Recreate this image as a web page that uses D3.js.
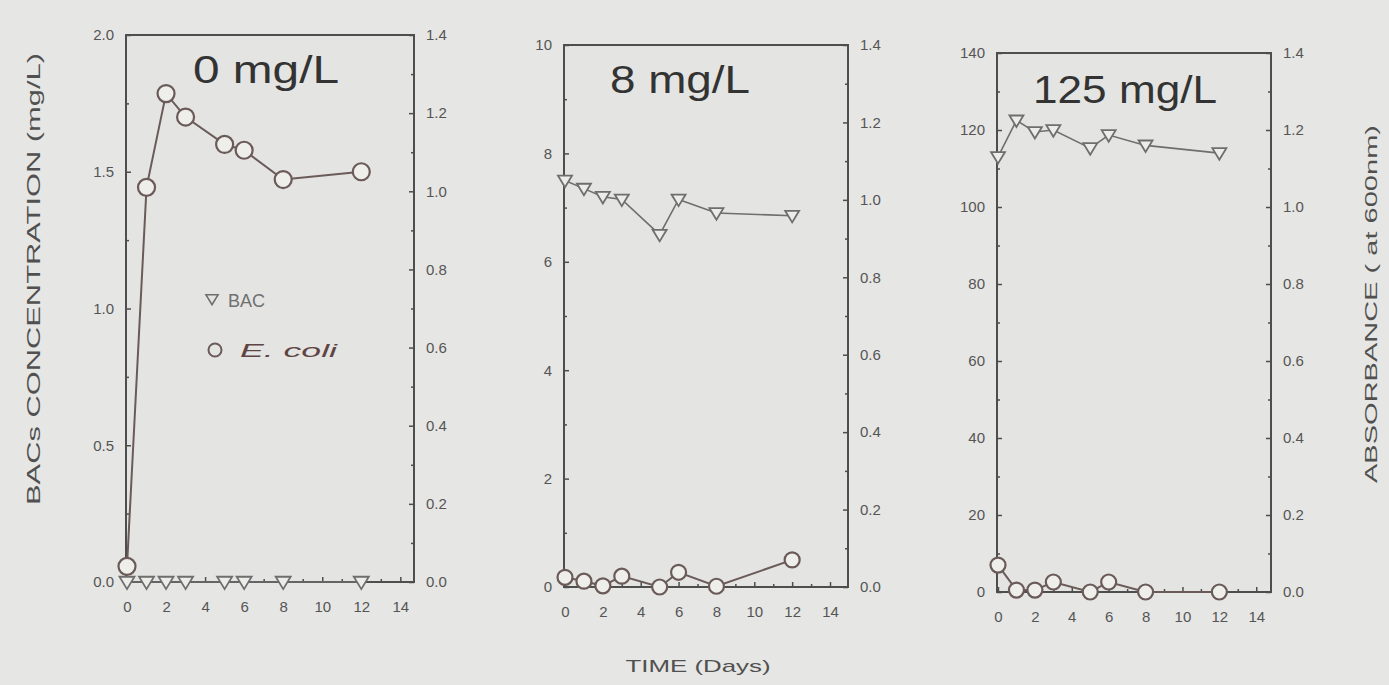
<!DOCTYPE html>
<html>
<head>
<meta charset="utf-8">
<script src="https://cdn.jsdelivr.net/npm/d3@7"></script>
<style>
  html, body { margin: 0; padding: 0; background: #e6e6e4; }
  svg { display: block; }
</style>
</head>
<body>
<svg id="chart" width="1389" height="685"></svg>
<script>
// ---------------- DATA ----------------
const days = [0, 1, 2, 3, 5, 6, 8, 12];
const panelTitles = ["0 mg/L", "8 mg/L", "125 mg/L"];

const bac0   = [0, 0, 0, 0, 0, 0, 0, 0];
const ecoli0 = [0.04, 1.01, 1.25, 1.19, 1.12, 1.105, 1.03, 1.05];

const bac8   = [7.5, 7.35, 7.2, 7.15, 6.5, 7.15, 6.9, 6.85];
const ecoli8 = [0.025, 0.015, 0.003, 0.028, 0.0, 0.038, 0.002, 0.07];

const bac125   = [113, 122.5, 119.5, 120, 115.3, 118.7, 116, 114];
const ecoli125 = [0.07, 0.005, 0.005, 0.026, 0.0, 0.026, 0.0, 0.0];

const leftTicks0   = [0, 0.5, 1.0, 1.5, 2.0];
const leftTicks8   = [0, 2, 4, 6, 8, 10];
const leftTicks125 = [0, 20, 40, 60, 80, 100, 120, 140];
const rightTicks   = [0, 0.2, 0.4, 0.6, 0.8, 1.0, 1.2, 1.4];
const xTicks       = [0, 2, 4, 6, 8, 10, 12, 14];

const legendLabels = ["BAC", "E. coli"];
const xAxisTitle = "TIME (Days)";
const leftAxisTitle = "BACs CONCENTRATION (mg/L)";
const rightAxisTitle = "ABSORBANCE ( at 600nm)";

// ---------------- LAYOUT ----------------
const svg = d3.select("#chart");
const FONT = "'Liberation Sans', Arial, sans-serif";
const frameColor = "#4e4e4e";
const bacColor = "#6e6e6e";
const ecoliColor = "#6a5a58";
const tickTextColor = "#555555";

const panels = [
  { title: panelTitles[0], bac: bac0, ecoli: ecoli0, leftTicks: leftTicks0, leftMax: 2.0, leftFmt: d3.format(".1f"),
    leftMinor: d3.range(0.25, 2, 0.5),
    box: { l: 126, r: 414, t: 35, b: 582 }, xMax: 14.7, xLabelY: 612,
    title_x: 193, title_y: 83, titleW: 146, r: 8.5, tri: 7.5, legend: true },
  { title: panelTitles[1], bac: bac8, ecoli: ecoli8, leftTicks: leftTicks8, leftMax: 10, leftFmt: d3.format("d"),
    leftMinor: d3.range(1, 10, 2),
    box: { l: 564, r: 848, t: 45, b: 587 }, xMax: 14.95, xLabelY: 617,
    title_x: 610, title_y: 93, titleW: 140, r: 7.5, tri: 7, legend: false },
  { title: panelTitles[2], bac: bac125, ecoli: ecoli125, leftTicks: leftTicks125, leftMax: 140, leftFmt: d3.format("d"),
    leftMinor: d3.range(10, 140, 20),
    box: { l: 997, r: 1271, t: 53, b: 592 }, xMax: 14.8, xLabelY: 622,
    title_x: 1033, title_y: 103, titleW: 184, r: 7.5, tri: 7, legend: false }
];

function triPath(s) {
  // downward-pointing triangle centred at 0,0
  return `M${-s},${-s * 0.7}L${s},${-s * 0.7}L0,${s * 0.95}Z`;
}

panels.forEach(p => {
  const g = svg.append("g");
  const B = p.box;
  const x = d3.scaleLinear().domain([0, p.xMax]).range([B.l + 1, B.r]);
  const yL = d3.scaleLinear().domain([0, p.leftMax]).range([B.b, B.t]);
  const yR = d3.scaleLinear().domain([0, 1.4]).range([B.b, B.t]);

  // frame
  g.append("rect")
    .attr("x", B.l).attr("y", B.t)
    .attr("width", B.r - B.l).attr("height", B.b - B.t)
    .attr("fill", "#e4e4e2")
    .attr("stroke", frameColor).attr("stroke-width", 2);

  // left axis
  const la = g.append("g").attr("transform", `translate(${B.l},0)`)
    .call(d3.axisLeft(yL).tickValues(p.leftTicks).tickFormat(p.leftFmt).tickSize(-5).tickPadding(12));
  const lm = g.append("g").attr("transform", `translate(${B.l},0)`)
    .call(d3.axisLeft(yL).tickValues(p.leftMinor).tickFormat("").tickSize(-3));

  // right axis
  const ra = g.append("g").attr("transform", `translate(${B.r},0)`)
    .call(d3.axisRight(yR).tickValues(rightTicks).tickFormat(d3.format(".1f")).tickSize(-5).tickPadding(12));
  const rm = g.append("g").attr("transform", `translate(${B.r},0)`)
    .call(d3.axisRight(yR).tickValues(d3.range(0.1, 1.4, 0.2)).tickFormat("").tickSize(-3));

  // bottom axis
  const ba = g.append("g").attr("transform", `translate(0,${B.b})`)
    .call(d3.axisBottom(x).tickValues(xTicks).tickFormat(d3.format("d")).tickSize(-5).tickPadding(p.xLabelY - B.b - 11));
  const bm = g.append("g").attr("transform", `translate(0,${B.b})`)
    .call(d3.axisBottom(x).tickValues(d3.range(1, 15, 2)).tickFormat("").tickSize(-3));

  [la, lm, ra, rm, ba, bm].forEach(a => {
    a.select(".domain").remove();
    a.selectAll(".tick line").attr("stroke", frameColor).attr("stroke-width", 1.5);
    a.selectAll(".tick text").attr("fill", tickTextColor)
      .style("font-family", FONT).style("font-size", "15px");
  });
  ba.selectAll(".tick text").attr("dy", "0.71em");

  // title
  g.append("text")
    .attr("x", p.title_x).attr("y", p.title_y)
    .attr("textLength", p.titleW).attr("lengthAdjust", "spacingAndGlyphs")
    .style("font-family", FONT).style("font-size", "38px")
    .attr("fill", "#333")
    .text(p.title);

  // E. coli line (right axis)
  const lineE = d3.line().x((d, i) => x(days[i])).y(d => yR(d));
  g.append("path").datum(p.ecoli)
    .attr("d", lineE).attr("fill", "none")
    .attr("stroke", ecoliColor).attr("stroke-width", 2);

  // BAC line (left axis)
  const lineB = d3.line().x((d, i) => x(days[i])).y(d => yL(d));
  g.append("path").datum(p.bac)
    .attr("d", lineB).attr("fill", "none")
    .attr("stroke", bacColor).attr("stroke-width", 1.6);

  // BAC triangles
  g.selectAll(".tri").data(p.bac).enter().append("path")
    .attr("transform", (d, i) => `translate(${x(days[i])},${yL(d)})`)
    .attr("d", triPath(p.tri))
    .attr("fill", "#ecece9").attr("stroke", bacColor).attr("stroke-width", 1.8);

  // E. coli circles
  g.selectAll(".circ").data(p.ecoli).enter().append("circle")
    .attr("cx", (d, i) => x(days[i])).attr("cy", d => yR(d))
    .attr("r", p.r)
    .attr("fill", "#eeeeeb").attr("stroke", ecoliColor).attr("stroke-width", 2.2);

  if (p.legend) {
    const lg = g.append("g");
    lg.append("path").attr("transform", "translate(212,299)").attr("d", triPath(6))
      .attr("fill", "none").attr("stroke", bacColor).attr("stroke-width", 1.6);
    lg.append("text").attr("x", 228).attr("y", 307)
      .style("font-family", FONT).style("font-size", "18px").attr("fill", "#707070")
      .text(legendLabels[0]);
    lg.append("circle").attr("cx", 215).attr("cy", 350).attr("r", 6.5)
      .attr("fill", "none").attr("stroke", ecoliColor).attr("stroke-width", 2);
    lg.append("text").attr("x", 240).attr("y", 357)
      .attr("textLength", 97).attr("lengthAdjust", "spacingAndGlyphs")
      .style("font-family", FONT).style("font-size", "18px").style("font-style", "italic")
      .attr("fill", "#5e4442")
      .text(legendLabels[1]);
  }
});

// axis titles
svg.append("text")
  .attr("transform", "translate(40,279) rotate(-90)")
  .attr("text-anchor", "middle")
  .attr("textLength", 452).attr("lengthAdjust", "spacingAndGlyphs")
  .style("font-family", FONT).style("font-size", "19px").attr("fill", "#505050")
  .text(leftAxisTitle);

svg.append("text")
  .attr("transform", "translate(1377,304) rotate(-90)")
  .attr("text-anchor", "middle")
  .attr("textLength", 358).attr("lengthAdjust", "spacingAndGlyphs")
  .style("font-family", FONT).style("font-size", "17px").attr("fill", "#505050")
  .text(rightAxisTitle);

svg.append("text")
  .attr("x", 698).attr("y", 672)
  .attr("text-anchor", "middle")
  .attr("textLength", 145).attr("lengthAdjust", "spacingAndGlyphs")
  .style("font-family", FONT).style("font-size", "17px").attr("fill", "#505050")
  .text(xAxisTitle);
</script>
</body>
</html>
